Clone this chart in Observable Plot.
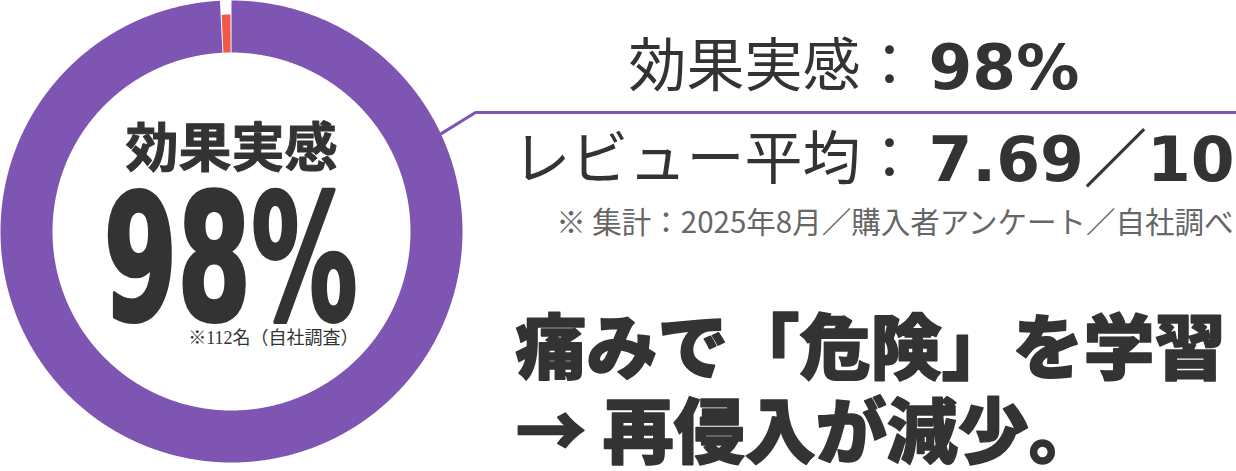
<!DOCTYPE html>
<html><head><meta charset="utf-8">
<script src="https://cdn.jsdelivr.net/npm/d3@7"></script>
<script src="https://cdn.jsdelivr.net/npm/@observablehq/plot@0.6"></script>
<style>html,body{margin:0;padding:0;background:#fff;overflow:hidden}</style>
</head><body><div id="chart"></div>
<script>
// ---- data ----
const ringLabels = ["効果実感あり", "その他"];
const ringShares = [99.2, 0.8];
const ringColors = ["#7e55b2", "#ee5a45"];
const centerLabel = "効果実感";
const centerValue = "98%";
const sampleNote = "※112名（自社調査）";
const statLabels = ["効果実感：", "レビュー平均："];
const statValues = ["98%", "7.69／10"];
const footnote = "※ 集計：2025年8月／購入者アンケート／自社調べ";
const messageLines = ["痛みで「危険」を学習", "→ 再侵入が減少。"];

// ---- layout ----
const W = 1236, H = 471;
const cx = 231, cy = 231, R = 231, r = 179, rMarker = 217;
const CJK = "'Noto Sans CJK JP', 'Noto Sans', sans-serif";
const NUM = "'DejaVu Sans', 'Noto Sans CJK JP', sans-serif";
const ink = "#333333";

// build ring slice polygons from the shares
const total = d3.sum(ringShares);
let acc = 0;
const ringPts = [];
ringShares.forEach((v, i) => {
  const a0 = acc / total * 2 * Math.PI; acc += v;
  const a1 = acc / total * 2 * Math.PI;
  const pad = i === 0 ? 0 : 0.005;
  const outer = i === 0 ? R : rMarker;
  const s0 = a0 + pad, s1 = a1 - pad;
  const n = Math.max(2, Math.ceil((s1 - s0) / 0.005));
  for (let k = 0; k <= n; k++) {
    const a = s0 + (s1 - s0) * k / n;
    ringPts.push({slice: ringLabels[i], x: cx + outer * Math.sin(a), y: cy - outer * Math.cos(a)});
  }
  for (let k = n; k >= 0; k--) {
    const a = s0 + (s1 - s0) * k / n;
    ringPts.push({slice: ringLabels[i], x: cx + r * Math.sin(a), y: cy - r * Math.cos(a)});
  }
});

const connAngle = 65 * Math.PI / 180;
const ruleY = 112;
const connector = [
  {x: cx + R * Math.sin(connAngle), y: cy - R * Math.cos(connAngle)},
  {x: 475, y: ruleY},
  {x: W, y: ruleY}
];

const plot = Plot.plot({
  width: W, height: H, margin: 0,
  x: {domain: [0, W], range: [0, W], axis: null},
  y: {domain: [0, H], range: [0, H], axis: null},
  style: {background: "white", overflow: "visible"},
  marks: [
    ...ringLabels.map((lab, i) => Plot.line(ringPts.filter(d => d.slice === lab),
      {x: "x", y: "y", fill: ringColors[i], stroke: "none", curve: "linear-closed"})),
    Plot.line(connector, {x: "x", y: "y", stroke: ringColors[0], strokeWidth: 3}),
    // donut centre
    Plot.text([centerLabel], {x: () => cx, y: () => 150, text: d => d, fontFamily: CJK, fontWeight: 700,
      fontSize: 53, fill: ink, textAnchor: "middle", lineAnchor: "middle", stroke: ink, strokeWidth: 1}),
    Plot.text([centerValue], {x: () => cx - 1, y: () => 264, text: d => d, fontFamily: NUM, fontWeight: 700,
      fontSize: 174, fill: ink, textAnchor: "middle", lineAnchor: "middle", stroke: ink, strokeWidth: 4}),
    Plot.text([sampleNote], {x: () => 358, y: () => 338, text: d => d,
      fontFamily: "'Liberation Serif', 'DejaVu Serif', 'Noto Sans CJK JP', serif",
      fontSize: 18, fill: ink, textAnchor: "end", lineAnchor: "middle"}),
    // stats on the right
    Plot.text(statLabels, {x: () => 918, y: (d, i) => [67, 160][i], text: d => d, fontFamily: CJK,
      fontWeight: 400, fontSize: 58, fill: ink, textAnchor: "end", lineAnchor: "middle"}),
    Plot.text(statValues, {x: () => 928, y: (d, i) => [68, 160][i], text: d => d, fontFamily: NUM,
      fontWeight: 700, fontSize: 63, fill: ink, textAnchor: "start", lineAnchor: "middle"}),
    Plot.text([footnote], {x: () => 1233, y: () => 223, text: d => d, fontFamily: CJK, fontWeight: 400,
      fontSize: 29.5, fill: "#666666", textAnchor: "end", lineAnchor: "middle"}),
    Plot.text(messageLines, {x: () => 515, y: (d, i) => [350, 434][i], text: d => d, fontFamily: CJK,
      fontWeight: 900, fontSize: 71, fill: ink, textAnchor: "start", lineAnchor: "middle",
      stroke: ink, strokeWidth: 1.5})
  ]
});
document.getElementById("chart").appendChild(plot);

// condense the large centre figure horizontally
plot.querySelectorAll("g[aria-label='text']").forEach(g => {
  if (g.getAttribute("font-size") !== "174") return;
  g.querySelectorAll("text").forEach(t => {
    const tr = t.getAttribute("transform");
    if (tr) t.setAttribute("transform", tr + " scale(0.61,1)");
    else {
      const x = t.getAttribute("x") || 0, y = t.getAttribute("y") || 0;
      t.removeAttribute("x"); t.removeAttribute("y");
      t.setAttribute("transform", `translate(${x},${y}) scale(0.61,1)`);
    }
  });
});
</script>
</body></html>
